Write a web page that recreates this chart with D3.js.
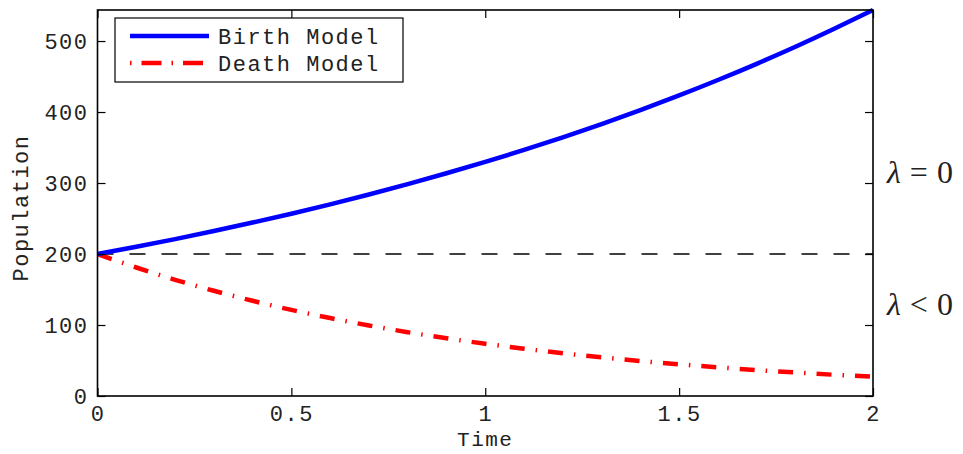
<!DOCTYPE html>
<html><head><meta charset="utf-8">
<script src="https://cdn.jsdelivr.net/npm/d3@7"></script>
<style>body{margin:0;background:#fff}svg{display:block}</style>
</head><body>
<svg id="c" width="963" height="454"></svg>
<script>
const times = [0,0.1,0.2,0.3,0.4,0.5,0.6,0.7,0.8,0.9,1.0,1.1,1.2,1.3,1.4,1.5,1.6,1.7,1.8,1.9,2.0];
const birthModel = [200,210.3,221.0,232.4,244.3,256.8,270.0,283.8,298.4,313.7,329.7,346.6,364.4,383.1,402.8,423.4,445.1,467.9,491.9,517.2,543.7];
const deathModel = [200,181.0,163.7,148.2,134.1,121.3,109.8,99.3,89.9,81.3,73.6,66.6,60.2,54.5,49.3,44.6,40.4,36.5,33.1,29.9,27.1];
const baseline = 200;
const xTicks = [0,0.5,1,1.5,2];
const xTickLabels = ["0","0.5","1","1.5","2"];
const yTicks = [0,100,200,300,400,500];
const seriesNames = ["Birth Model","Death Model"];
const annotations = ["λ = 0","λ < 0"];

const svg = d3.select("#c");
const L=97.5, R=873, T=10, B=396;
const x = d3.scaleLinear().domain([0,2]).range([L,R]);
const y = d3.scaleLinear().domain([0,543.7]).range([B,T]);
const mono = "'Liberation Mono','Courier New',monospace";

// dashed reference line
svg.append("line").attr("x1",x(0)).attr("x2",x(2)).attr("y1",y(baseline)).attr("y2",y(baseline))
  .attr("stroke","#000").attr("stroke-width",1.3).attr("stroke-dasharray","16,16");

const line = d3.line().x((d,i)=>x(times[i])).y(d=>y(d)).curve(d3.curveNatural);
svg.append("path").datum(deathModel).attr("d",line).attr("fill","none")
  .attr("stroke","#ff0000").attr("stroke-width",4.5).attr("stroke-dasharray","15,11,1.5,11");
svg.append("path").datum(birthModel).attr("d",line).attr("fill","none")
  .attr("stroke","#0000ff").attr("stroke-width",4.5);

// axes
const tl = 8;
const gx = svg.append("g").attr("transform",`translate(0,${B})`)
  .call(d3.axisBottom(x).tickValues(xTicks).tickFormat((d,i)=>xTickLabels[i]).tickSize(-tl).tickPadding(9));
const gxt = svg.append("g").attr("transform",`translate(0,${T})`)
  .call(d3.axisTop(x).tickValues(xTicks).tickFormat("").tickSize(-tl));
const gy = svg.append("g").attr("transform",`translate(${L},0)`)
  .call(d3.axisLeft(y).tickValues(yTicks).tickSize(-tl).tickPadding(9));
const gyr = svg.append("g").attr("transform",`translate(${R},0)`)
  .call(d3.axisRight(y).tickValues(yTicks).tickFormat("").tickSize(-tl));
[gx,gxt,gy,gyr].forEach(g=>{
  g.select(".domain").remove();
  g.selectAll("line").attr("stroke","#000").attr("stroke-width",1.2);
  g.selectAll("text").attr("font-family",mono).attr("font-size",22).attr("fill","#222")
   .attr("letter-spacing",1.5);
});
gx.selectAll("text").attr("dy","0.71em");
svg.append("rect").attr("x",L).attr("y",T).attr("width",R-L).attr("height",B-T)
  .attr("fill","none").attr("stroke","#000").attr("stroke-width",1.6);

// axis labels
svg.append("text").attr("x",x(1)).attr("y",446).attr("text-anchor","middle")
  .attr("font-family",mono).attr("font-size",21).attr("letter-spacing",1.5).attr("fill","#222").text("Time");
svg.append("text").attr("transform",`translate(28,${(T+B)/2+5}) rotate(-90)`).attr("text-anchor","middle")
  .attr("font-family",mono).attr("font-size",22).attr("letter-spacing",1.5).attr("fill","#222").text("Population");

// legend
const lg = svg.append("g");
lg.append("rect").attr("x",115).attr("y",18).attr("width",288).attr("height",64)
  .attr("fill","#fff").attr("stroke","#000").attr("stroke-width",1.2);
const styles = [{c:"#0000ff",d:null},{c:"#ff0000",d:"1.5,10,20,10"}];
seriesNames.forEach((n,i)=>{
  const yy = 36 + i*27;
  lg.append("line").attr("x1",130).attr("x2",209).attr("y1",yy).attr("y2",yy)
    .attr("stroke",styles[i].c).attr("stroke-width",4.5).attr("stroke-dasharray",styles[i].d);
  lg.append("text").attr("x",218).attr("y",yy+8).attr("font-family",mono).attr("font-size",22)
    .attr("letter-spacing",1.5).attr("fill","#222").text(n);
});

// annotations
const serif = "'Liberation Serif','DejaVu Serif',serif";
[183,315].forEach((by,i)=>{
  const t = svg.append("text").attr("x",887).attr("y",by).attr("font-family",serif).attr("font-size",32).attr("fill","#222");
  const parts = annotations[i].split(" ");
  t.append("tspan").attr("font-style","italic").text(parts[0]);
  t.append("tspan").attr("dx",9).text(parts[1]);
  t.append("tspan").attr("dx",9).text(parts[2]);
});
</script>
</body></html>
